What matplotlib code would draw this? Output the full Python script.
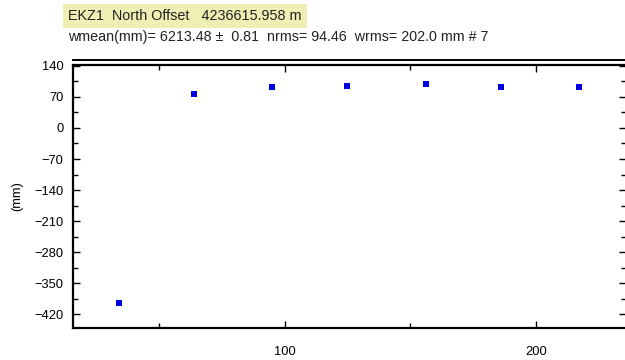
import matplotlib
matplotlib.use("Agg")
import matplotlib.pyplot as plt
from matplotlib.lines import Line2D
from matplotlib.patches import Rectangle
from matplotlib.ticker import MultipleLocator, FixedLocator

# Daily north-offset residuals for station EKZ1
days = [34.1, 64.2, 95.1, 125.0, 156.1, 186.0, 216.8]
north_mm = [-395.0, 76.7, 91.9, 94.8, 98.6, 93.3, 91.9]

title_text = "EKZ1  North Offset   4236615.958 m"
stats_text = "wmean(mm)= 6213.48 \u00b1  0.81  nrms= 94.46  wrms= 202.0 mm # 7"
y_label = "(mm)"
y_ticks = list(range(-420, 141, 70))
x_major = [100, 200]
x_minor = [50, 150]

plt.rcParams["font.family"] = ["Liberation Sans", "DejaVu Sans"]

W, H = 625, 360
fig = plt.figure(figsize=(W / 100, H / 100), dpi=100)
ax = fig.add_axes([73 / W, 1 - 328 / H, (626 - 73) / W, (328 - 65) / H])

ax.plot(days, north_mm, linestyle="none", marker="s", markersize=4.2,
        color="#0000dd", markeredgewidth=0)

ax.set_xlim(16, 235.6)
ax.set_ylim(-451.5, 142.2)

ax.yaxis.set_major_locator(FixedLocator(y_ticks))
ax.yaxis.set_minor_locator(MultipleLocator(35))
ax.xaxis.set_major_locator(FixedLocator(x_major))
ax.xaxis.set_minor_locator(FixedLocator(x_minor))

ax.tick_params(which="both", direction="in", top=True, right=True,
               labelsize=9.3, colors="black", width=1.0, pad=7)
ax.tick_params(which="major", length=5)
ax.tick_params(which="minor", length=3.5)
ax.tick_params(axis="x", pad=13)

for side, sp in ax.spines.items():
    sp.set_linewidth(1.6)
ax.spines["right"].set_visible(False)

ax.set_ylabel(y_label, fontsize=9.3, labelpad=8)

# second rule just above the plot frame
fig.add_artist(Line2D([73 / W, 1.0], [1 - 60 / H, 1 - 60 / H],
                      transform=fig.transFigure, color="black", linewidth=1.4))

# highlighted station header
fig.add_artist(Rectangle((63 / W, 1 - 28 / H), (307 - 63) / W, 24 / H,
                         transform=fig.transFigure, facecolor="#efefb4",
                         edgecolor="none"))
fig.text(68 / W, 1 - 16 / H, title_text, fontsize=10.4, color="#222222",
         va="center", ha="left")
fig.text(68 / W, 1 - 37 / H, stats_text, fontsize=10.3, color="#222222",
         va="center", ha="left")

fig.savefig("out.png", dpi=100, facecolor="white")
